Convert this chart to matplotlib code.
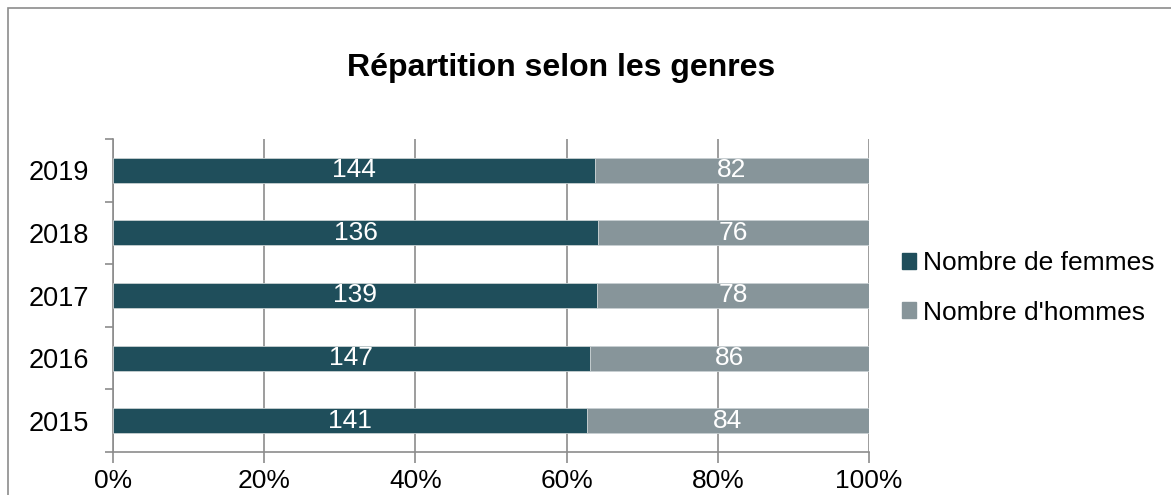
import matplotlib.pyplot as plt
from matplotlib.patches import Rectangle, Patch
import numpy as np

plt.rcParams['font.family'] = ['Liberation Sans', 'DejaVu Sans']

annees = ['2015', '2016', '2017', '2018', '2019']
femmes = [141, 147, 139, 136, 144]
hommes = [84, 86, 78, 76, 82]

couleur_femmes = '#1f4e5b'
couleur_hommes = '#87959a'
gris = '#8c8c8c'

femmes = np.array(femmes)
hommes = np.array(hommes)
total = femmes + hommes
part_f = femmes / total
part_h = hommes / total

fig = plt.figure(figsize=(11.71, 4.95), dpi=100)
W, H = 1171, 495

# cadre du graphique
fig.patches.append(Rectangle((8 / W, -0.1), 1.2, (H - 8) / H + 0.1, transform=fig.transFigure,
                             fill=False, edgecolor=gris, linewidth=1.2))

ax = fig.add_axes([113 / W, 1 - 452 / H, (869 - 113) / W, (452 - 139) / H])

y = np.arange(len(annees))
ax.barh(y, part_f, height=0.4, color=couleur_femmes, edgecolor='#c8d0d2', linewidth=0.6,
        label='Nombre de femmes', zorder=3)
ax.barh(y, part_h, left=part_f, height=0.4, color=couleur_hommes, edgecolor='#c8d0d2',
        linewidth=0.6, label="Nombre d'hommes", zorder=3)

for i in range(len(annees)):
    ax.text(part_f[i] / 2, y[i], str(femmes[i]), color='white', fontsize=19,
            ha='center', va='center', zorder=4)
    ax.text(part_f[i] + part_h[i] / 2, y[i], str(hommes[i]), color='white', fontsize=19,
            ha='center', va='center', zorder=4)

ax.set_xlim(0, 1)
ax.set_ylim(-0.5, len(annees) - 0.5)
ax.set_xticks(np.linspace(0, 1, 6))
ax.set_xticklabels([f'{int(v)}%' for v in np.linspace(0, 100, 6)], fontsize=19)
ax.set_yticks(y)
ax.set_yticklabels(annees, fontsize=19.5)
ax.set_yticks(np.arange(-0.5, len(annees), 1), minor=True)

ax.tick_params(axis='y', which='major', length=0, pad=17)
ax.tick_params(axis='y', which='minor', length=6, color=gris, width=1.2)
ax.tick_params(axis='x', length=8, color=gris, width=1.2, pad=4)

ax.grid(axis='x', color=gris, linewidth=1.2, zorder=0)
for s in ['top', 'right']:
    ax.spines[s].set_visible(False)
for s in ['left', 'bottom']:
    ax.spines[s].set_color(gris)
    ax.spines[s].set_linewidth(1.2)

fig.text(561 / W, 1 - 68 / H, 'Répartition selon les genres', fontsize=23,
         fontweight='bold', ha='center', va='center')

poignees = [Patch(color=couleur_femmes), Patch(color=couleur_hommes)]
fig.legend(poignees, ['Nombre de femmes', "Nombre d'hommes"], loc='center left',
           bbox_to_anchor=(878 / W, 1 - 288 / H), frameon=False, fontsize=19,
           handlelength=0.55, handleheight=0.55, handletextpad=0.25, labelspacing=0.95)

fig.savefig('out.png', dpi=100)
